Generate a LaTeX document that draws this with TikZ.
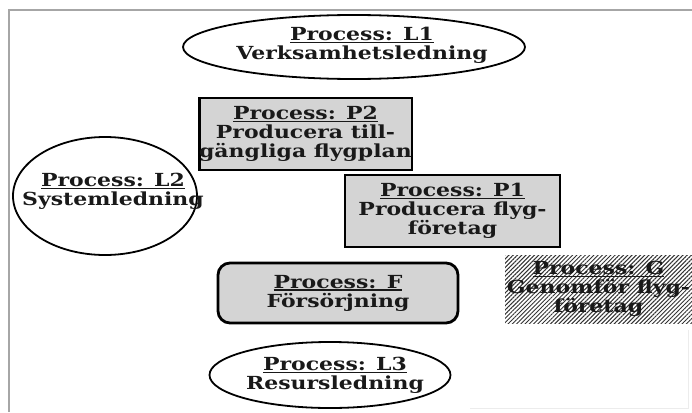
\documentclass[tikz,border=0pt]{standalone}
\usepackage{fontspec}
\setmainfont[FakeStretch=1.22]{DejaVu Serif}
\usetikzlibrary{shapes.geometric,patterns.meta,positioning}
\tikzset{
proctext/.style={
  font=\fontsize{18}{19}\selectfont\bfseries,
  align=center,
  inner sep=0pt,
  text=black!90
  },
procell/.style 2 args={
  ellipse,
  draw=black,
  line width=1.8pt,
  inner sep=0pt,
  minimum width=#1,
  minimum height=#2
  },
procbox/.style 2 args={
  rectangle,
  draw=black,
  line width=2.8pt,
  fill=black!17,
  proctext,
  minimum width=#1,
  minimum height=#2
  },
prochatch/.style 2 args={
  rectangle,
  pattern={Lines[angle=45,distance=3pt,line width=1pt]},
  pattern color=black!80,
  proctext,
  minimum width=#1,
  minimum height=#2
  }
}
\newcommand{\proc}[1]{\sbox0{Process: #1}\rlap{\rule[-2.5pt]{\wd0}{1.1pt}}\usebox0}

\begin{document}
\begin{tikzpicture}[x=1pt,y=-1pt]
\useasboundingbox (0,0) rectangle (692,412);

% frame
\draw[gray!70,line width=1.2pt] (9,412) -- (9,10) -- (692,10);
\draw[gray!15,line width=0.8pt] (470,408) -- (688,408) -- (688,330);

% ellipses
\node[procell={342pt}{64pt}] (l1) at (354,47) {};
\node[proctext] (l1txt) at ([xshift=8pt,yshift=2pt]l1.center)
  {\proc{L1}\\Verksamhetsledning};

\node[procell={184pt}{118pt}] (l2) at (105,196) {};
\node[proctext] (l2txt) at ([xshift=8pt,yshift=5pt]l2.center)
  {\proc{L2}\\Systemledning};

\node[procell={241pt}{66pt}] (l3) at (330,375) {};
\node[proctext] (l3txt) at ([xshift=5pt]l3.center)
  {\proc{L3}\\Resursledning};

% boxes
\node[procbox={207pt}{72pt}] (p2) at (305.5,134)
  {\proc{P2}\\Producera till-\\gängliga flygplan};
\node[procbox={215pt}{72pt}] (p1) at (452.5,211)
  {\proc{P1}\\Producera flyg-\\företag};
\node[procbox={240pt}{60pt},rounded corners=12pt] (f) at (338,293)
  {\proc{F}\\Försörjning};
\node[prochatch={187pt}{68pt}] (g) at (598.5,289)
  {\proc{G}\\Genomför flyg-\\företag};

\end{tikzpicture}
\end{document}
